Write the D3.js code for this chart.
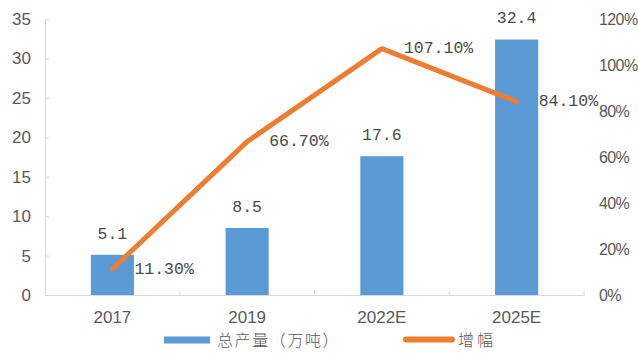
<!DOCTYPE html>
<html>
<head>
<meta charset="utf-8">
<script src="https://cdn.jsdelivr.net/npm/d3@7"></script>
<style>
  html, body { margin: 0; padding: 0; background: #fff; }
  svg { display: block; }
</style>
</head>
<body>
<svg id="chart" width="638" height="356"></svg>
<script>
// Production (10k tonnes) and growth rate by year
const years = ["2017", "2019", "2022E", "2025E"];
const output = [5.1, 8.5, 17.6, 32.4];
const growth = [0.113, 0.667, 1.071, 0.841];
const outputLabels = ["5.1", "8.5", "17.6", "32.4"];
const growthLabels = ["11.30%", "66.70%", "107.10%", "84.10%"];
const leftTicks = [0, 5, 10, 15, 20, 25, 30, 35];
const rightTicks = [0, 0.2, 0.4, 0.6, 0.8, 1.0, 1.2];
const legendNames = ["总产量（万吨）", "增幅"];

const BLUE = "#5b9bd5";
const ORANGE = "#ed7d31";
const AXIS = "#d9d9d9";
const TXT = "#595959";
const LATIN = "'Liberation Sans', Arial, sans-serif";
const MONO = "'Liberation Mono', 'DejaVu Sans Mono', monospace";
const CJK = "'Noto Sans CJK SC', sans-serif";

const svg = d3.select("#chart");
const plotL = 45, plotR = 584, plotT = 19, plotB = 295;

const x = d3.scaleBand().domain(years).range([plotL, plotR])
  .paddingInner(0.68).paddingOuter(0.34);
const yL = d3.scaleLinear().domain([0, 35]).range([plotB, plotT]);
const yR = d3.scaleLinear().domain([0, 1.2]).range([plotB, plotT]);
const cx = d => x(d) + x.bandwidth() / 2;

// Left axis
const gL = svg.append("g").attr("transform", `translate(${plotL},0)`)
  .call(d3.axisLeft(yL).tickValues(leftTicks).tickSizeInner(-4).tickSizeOuter(0).tickPadding(14));
gL.select(".domain").attr("stroke", AXIS);
gL.selectAll(".tick line").attr("stroke", AXIS);
gL.selectAll("text").attr("fill", TXT).attr("font-family", LATIN).attr("font-size", 17);

// Right axis (labels only)
const gR = svg.append("g").attr("transform", `translate(${plotR},0)`)
  .call(d3.axisRight(yR).tickValues(rightTicks).tickSize(0).tickPadding(15)
    .tickFormat(d3.format(".0%")));
gR.select(".domain").remove();
gR.selectAll("text").attr("fill", TXT).attr("font-family", LATIN).attr("font-size", 16)
  .attr("letter-spacing", -0.6);

// Bottom axis
const gB = svg.append("g").attr("transform", `translate(0,${plotB})`)
  .call(d3.axisBottom(x).tickSize(0).tickPadding(16));
gB.select(".domain").attr("stroke", AXIS);
gB.selectAll("text").attr("fill", TXT).attr("font-family", LATIN).attr("font-size", 17);
// Ticks at category boundaries, pointing inward
gB.selectAll(".bound").data(d3.range(1, years.length + 1)).join("line")
  .attr("class", "bound")
  .attr("x1", i => plotL + i * x.step()).attr("x2", i => plotL + i * x.step())
  .attr("y1", 0).attr("y2", -4).attr("stroke", AXIS);

// Bars
svg.append("g").selectAll("rect").data(years).join("rect")
  .attr("x", d => x(d))
  .attr("y", (d, i) => yL(output[i]))
  .attr("width", x.bandwidth())
  .attr("height", (d, i) => plotB - yL(output[i]))
  .attr("fill", BLUE);

// Bar value labels
svg.append("g").selectAll("text").data(years).join("text")
  .attr("x", d => cx(d))
  .attr("y", (d, i) => yL(output[i]) - 22)
  .attr("dy", "0.35em")
  .attr("text-anchor", "middle")
  .attr("font-family", MONO).attr("font-size", 16.5).attr("fill", "#4a4a4a")
  .text((d, i) => outputLabels[i]);

// Growth line
const line = d3.line().x(d => cx(d)).y((d, i) => yR(growth[i]));
svg.append("path").datum(years)
  .attr("d", line)
  .attr("fill", "none").attr("stroke", ORANGE).attr("stroke-width", 5)
  .attr("stroke-linejoin", "round").attr("stroke-linecap", "round");

// Growth value labels
svg.append("g").selectAll("text").data(years).join("text")
  .attr("x", d => cx(d) + 22)
  .attr("y", (d, i) => yR(growth[i]) - 1)
  .attr("dy", "0.35em")
  .attr("font-family", MONO).attr("font-size", 16.5).attr("fill", "#4a4a4a")
  .text((d, i) => growthLabels[i]);

// Legend
const lg = svg.append("g");
lg.append("rect").attr("x", 164).attr("y", 336.5).attr("width", 46).attr("height", 7).attr("fill", BLUE);
lg.append("text").attr("x", 217).attr("y", 340).attr("dy", "0.35em")
  .attr("font-family", CJK).attr("font-size", 16).attr("font-weight", 300).attr("letter-spacing", 1.6)
  .attr("fill", TXT).text(legendNames[0]);
lg.append("line").attr("x1", 406).attr("x2", 452).attr("y1", 339.5).attr("y2", 339.5)
  .attr("stroke", ORANGE).attr("stroke-width", 6).attr("stroke-linecap", "round");
lg.append("text").attr("x", 458).attr("y", 340).attr("dy", "0.35em")
  .attr("font-family", CJK).attr("font-size", 16).attr("font-weight", 300).attr("letter-spacing", 3)
  .attr("fill", TXT).text(legendNames[1]);
</script>
</body>
</html>
